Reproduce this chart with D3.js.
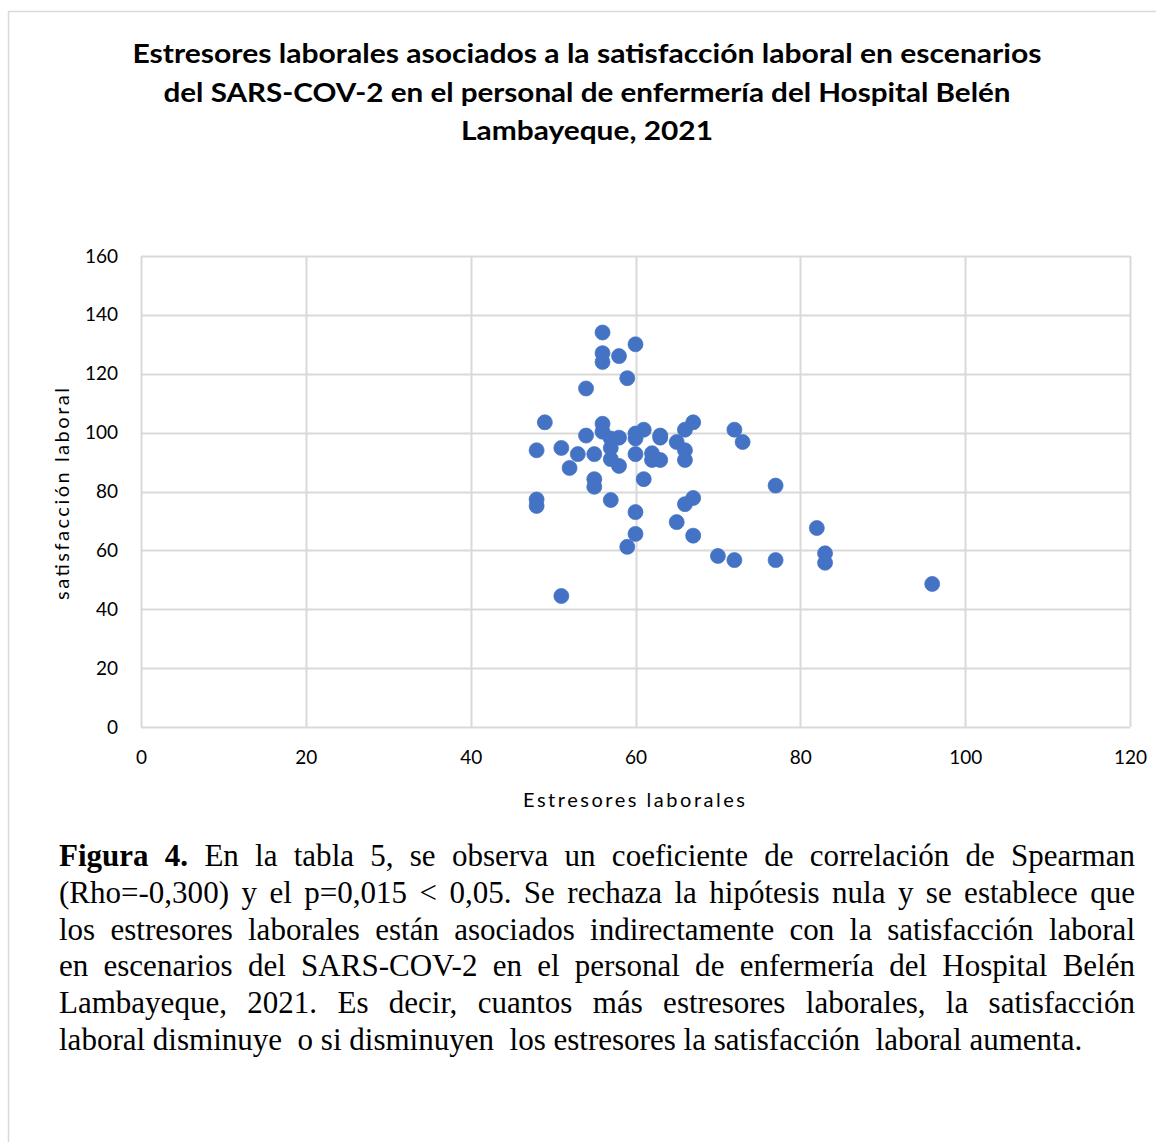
<!DOCTYPE html>
<html>
<head>
<meta charset="utf-8">
<script src="https://cdn.jsdelivr.net/npm/d3@7"></script>
<style>
  html, body { margin: 0; padding: 0; background: #fff; }
  svg { display: block; }
</style>
</head>
<body>
<div id="chart"></div>
<script>
// Data
const estresores = [56, 60, 56, 58, 56, 59, 54, 49, 56, 67, 56, 61, 66, 72, 54, 57, 58, 60, 60, 63,
    63, 65, 73, 48, 51, 53, 55, 57, 60, 62, 66, 57, 58, 62, 63, 66, 52, 55, 61, 55,
    77, 48, 57, 67, 48, 66, 60, 65, 82, 60, 67, 59, 70, 72, 77, 83, 83, 51, 96];
const satisfaccion = [134, 130, 127, 126, 124, 118.5, 115, 103.5, 103, 103.5, 100.3, 101, 101, 101, 99, 98, 98.3, 99.7, 98, 99,
    98.3, 96.8, 96.8, 94, 94.8, 92.7, 92.7, 94.8, 92.7, 93, 94, 91, 88.7, 90.7, 90.7, 90.7, 88, 84.2, 84.2, 81.6,
    82, 77.3, 77.1, 77.8, 75.1, 75.7, 73, 69.6, 67.6, 65.6, 65, 61.2, 58.1, 56.7, 56.7, 59, 55.8, 44.5, 48.6];
const xTicks = [0, 20, 40, 60, 80, 100, 120];
const yTicks = [0, 20, 40, 60, 80, 100, 120, 140, 160];

const titleLines = [
    "Estresores laborales asociados a la satisfacción laboral en escenarios",
    "del SARS-COV-2 en el personal de enfermería del Hospital Belén",
    "Lambayeque, 2021"
];
const xLabel = "Estresores laborales";
const yLabel = "satisfacción laboral";
const captionLines = [
    ["Figura 4.", " En la tabla 5, se observa un coeficiente de correlación de Spearman"],
    ["", "(Rho=-0,300) y el p=0,015 < 0,05. Se rechaza la hipótesis nula y se establece que"],
    ["", "los estresores laborales están asociados indirectamente con la satisfacción laboral"],
    ["", "en escenarios del SARS-COV-2 en el personal de enfermería del Hospital Belén"],
    ["", "Lambayeque, 2021. Es decir, cuantos más estresores laborales, la satisfacción"],
    ["", "laboral disminuye  o si disminuyen  los estresores la satisfacción  laboral aumenta."]
];

// Layout
const width = 1156;
const height = 1142;
const plot = { left: 141, right: 1130, top: 256, bottom: 727 };
const sansFont = "Lato, 'Open Sans', sans-serif";
const serifFont = "'Liberation Serif', 'Times New Roman', serif";

const svg = d3.select("#chart")
    .append("svg")
    .attr("width", width)
    .attr("height", height);

// Frame (only top and left edges visible in the crop)
svg.append("path")
    .attr("d", `M8.5,${height} V11.5 H${width}`)
    .attr("fill", "none")
    .attr("stroke", "#d9d9d9")
    .attr("stroke-width", 1.5);

// Scales
const x = d3.scaleLinear().domain([0, 120]).range([plot.left, plot.right]);
const y = d3.scaleLinear().domain([0, 160]).range([plot.bottom, plot.top]);

// Title
const titleWidths = [909, 847, 252];
svg.append("g")
    .selectAll("text")
    .data(titleLines)
    .join("text")
    .attr("x", 587)
    .attr("y", (d, i) => 63 + i * 38.5)
    .attr("text-anchor", "middle")
    .attr("font-family", sansFont)
    .attr("font-weight", "bold")
    .attr("font-size", 27)
    .attr("fill", "#000")
    .attr("textLength", (d, i) => titleWidths[i])
    .attr("lengthAdjust", "spacingAndGlyphs")
    .text(d => d);

// Gridlines
const grid = svg.append("g").attr("class", "grid");
grid.selectAll(".hgrid")
    .data(yTicks)
    .join("line")
    .attr("x1", plot.left).attr("x2", plot.right)
    .attr("y1", d => Math.round(y(d)) + 0.5).attr("y2", d => Math.round(y(d)) + 0.5)
    .attr("stroke", "#d9d9d9")
    .attr("stroke-width", 2);
grid.selectAll(".vgrid")
    .data(xTicks)
    .join("line")
    .attr("y1", plot.top).attr("y2", plot.bottom)
    .attr("x1", d => Math.round(x(d)) + 0.5).attr("x2", d => Math.round(x(d)) + 0.5)
    .attr("stroke", "#d9d9d9")
    .attr("stroke-width", 2);

// Axes (labels only, lines drawn by the grid)
const xAxis = svg.append("g")
    .attr("transform", `translate(0,${plot.bottom})`)
    .call(d3.axisBottom(x).tickValues(xTicks).tickSize(0).tickPadding(24));
const yAxis = svg.append("g")
    .attr("transform", `translate(${plot.left},0)`)
    .call(d3.axisLeft(y).tickValues(yTicks).tickSize(0).tickPadding(23));
[xAxis, yAxis].forEach(a => {
    a.select(".domain").remove();
    a.selectAll("text")
        .attr("font-family", sansFont)
        .attr("font-size", 19)
        .attr("fill", "#000");
});

// Axis titles
svg.append("text")
    .attr("x", 634)
    .attr("y", 807)
    .attr("text-anchor", "middle")
    .attr("font-family", sansFont)
    .attr("font-size", 20)
    .attr("fill", "#000")
    .attr("textLength", 222)
    .attr("lengthAdjust", "spacing")
    .text(xLabel);
svg.append("text")
    .attr("transform", "translate(69,494) rotate(-90)")
    .attr("text-anchor", "middle")
    .attr("font-family", sansFont)
    .attr("font-size", 20)
    .attr("fill", "#000")
    .attr("textLength", 212)
    .attr("lengthAdjust", "spacing")
    .text(yLabel);

// Points
svg.append("g")
    .selectAll("circle")
    .data(d3.zip(estresores, satisfaccion))
    .join("circle")
    .attr("cx", d => x(d[0]))
    .attr("cy", d => y(d[1]))
    .attr("r", 7.5)
    .attr("fill", "#4472c4")
    .attr("stroke", "#4472c4")
    .attr("stroke-width", 0.75);

// Caption, justified by widening the spaces between words
const captionLeft = 59;
const captionRight = 1135;
const lastLineRight = 1083;
const caption = svg.append("g");
const captionTexts = captionLines.map((line, i) => {
    const t = caption.append("text")
        .attr("x", captionLeft)
        .attr("y", 866 + i * 36.8)
        .attr("font-family", serifFont)
        .attr("font-size", 28)
        .attr("fill", "#000")
        .attr("xml:space", "preserve");
    if (line[0]) t.append("tspan").attr("font-weight", "bold").text(line[0]);
    t.append("tspan").text(line[1]);
    return t;
});
// font size so that the last (unjustified) line ends where it does in the picture
const lastNode = captionTexts[captionTexts.length - 1].node();
const fs = 28 * (lastLineRight - captionLeft) / lastNode.getComputedTextLength();
captionTexts.forEach(t => t.attr("font-size", fs));
captionTexts.forEach((t, i) => {
    if (i === captionTexts.length - 1) return;
    const natural = t.node().getComputedTextLength();
    const spaces = (captionLines[i][0] + captionLines[i][1]).split(" ").length - 1;
    const ws = (captionRight - captionLeft - natural) / spaces;
    t.attr("word-spacing", ws);
});
</script>
</body>
</html>
